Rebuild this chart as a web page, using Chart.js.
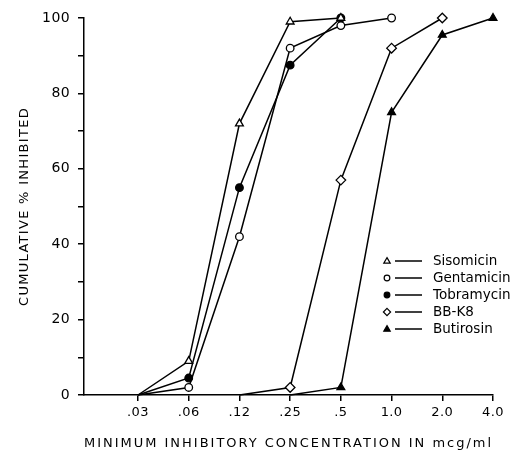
<!DOCTYPE html>
<html><head><meta charset="utf-8">
<script src="https://cdn.jsdelivr.net/npm/chart.js@4.4.0/dist/chart.umd.min.js"></script>
<style>html,body{margin:0;padding:0;background:#fff}</style></head>
<body><div style="width:513px;height:458px"><canvas id="c" width="513" height="458"></canvas></div>
<script>
const concentrations = ['.03', '.06', '.12', '.25', '.5', '1.0', '2.0', '4.0'];
const seriesNames = ['Sisomicin', 'Gentamicin', 'Tobramycin', 'BB-K8', 'Butirosin'];
const sisomicin  = [0, 9, 72, 99, 100, null, null, null];
const gentamicin = [0, 2, 42, 92, 98, 100, null, null];
const tobramycin = [0, 4.5, 55, 87.5, 100, null, null, null];
const bbk8       = [null, null, 0, 2, 57, 92, 100, null];
const butirosin  = [null, null, null, 0, 2, 75, 95.5, 100];
const yTickValues = [0, 10, 20, 30, 40, 50, 60, 70, 80, 90, 100];

const FONT = 'DejaVu Sans';
const styles = [
  {pointStyle: 'triangle', fill: '#fff', r: 4.5},
  {pointStyle: 'circle', fill: '#fff', r: 3.8},
  {pointStyle: 'circle', fill: '#000', r: 3.8},
  {pointStyle: 'rectRot', fill: '#fff', r: 4.8},
  {pointStyle: 'triangle', fill: '#000', r: 4.5}
];
const seriesValues = [sisomicin, gentamicin, tobramycin, bbk8, butirosin];

function toPoints(arr) {
  const out = [];
  arr.forEach((v, i) => { if (v !== null) out.push({x: i, y: v}); });
  return out;
}

const datasets = seriesValues.map((vals, k) => ({
  label: seriesNames[k],
  data: toPoints(vals),
  borderColor: '#000',
  borderWidth: 1.5,
  backgroundColor: styles[k].fill,
  pointStyle: styles[k].pointStyle,
  pointBackgroundColor: styles[k].fill,
  pointBorderColor: '#000',
  pointBorderWidth: 1.3,
  pointRadius: ctx => (ctx.raw && ctx.raw.y === 0) ? 0 : styles[k].r,
  pointHoverRadius: ctx => (ctx.raw && ctx.raw.y === 0) ? 0 : styles[k].r,
  tension: 0,
  fill: false,
  clip: false
}));

function drawMarker(c, style, x, y, r, fill) {
  c.save();
  c.beginPath();
  if (style === 'triangle') {
    c.moveTo(x, y - r);
    c.lineTo(x + r * 0.95, y + r * 0.65);
    c.lineTo(x - r * 0.95, y + r * 0.65);
    c.closePath();
  } else if (style === 'circle') {
    c.arc(x, y, r, 0, Math.PI * 2);
  } else {
    c.moveTo(x, y - r); c.lineTo(x + r, y); c.lineTo(x, y + r); c.lineTo(x - r, y); c.closePath();
  }
  c.fillStyle = fill; c.fill();
  c.lineWidth = 1.2; c.strokeStyle = '#000'; c.stroke();
  c.restore();
}

function spacedScale(titleSpacing, labelSpacing) {
  return s => {
    if (!s._spacedPatched) {
      s._spacedPatched = true;
      const origTitle = s.drawTitle, origLabels = s.drawLabels;
      s.drawTitle = function () {
        const c = this.ctx; const prev = c.letterSpacing;
        c.letterSpacing = titleSpacing; origTitle.apply(this, arguments); c.letterSpacing = prev;
      };
      s.drawLabels = function () {
        const c = this.ctx; const prev = c.letterSpacing;
        c.letterSpacing = labelSpacing; origLabels.apply(this, arguments); c.letterSpacing = prev;
      };
    }
  };
}

const legendPlugin = {
  id: 'customLegend',
  afterDraw(chart) {
    const c = chart.ctx;
    const x0 = 387, y0 = 261, dy = 17;
    seriesNames.forEach((name, k) => {
      const y = y0 + k * dy;
      c.save();
      c.strokeStyle = '#000'; c.lineWidth = 1.5;
      c.beginPath(); c.moveTo(x0 + 8, y); c.lineTo(x0 + 35, y); c.stroke();
      c.restore();
      drawMarker(c, styles[k].pointStyle, x0, y, styles[k].r * 0.75, styles[k].fill);
      c.save();
      c.letterSpacing = '0px';
      c.fillStyle = '#000';
      c.font = '13.5px "' + FONT + '"';
      c.textBaseline = 'middle';
      c.fillText(name, x0 + 46, y);
      c.restore();
    });
  }
};

new Chart(document.getElementById('c'), {
  type: 'line',
  data: {datasets},
  plugins: [legendPlugin],
  options: {
    responsive: false,
    animation: false,
    layout: {padding: {top: 18, right: 20, left: 0, bottom: 0}},
    plugins: {legend: {display: false}, tooltip: {enabled: false}},
    scales: {
      x: {
        type: 'linear',
        min: -1.065,
        max: 7,
        afterBuildTicks: s => { s.ticks = concentrations.map((_, i) => ({value: i})); },
        afterFit: s => { s.height = 63; spacedScale('2px', '0.4px')(s); },
        grid: {drawOnChartArea: false, drawTicks: true, tickLength: 6, color: '#000', lineWidth: 1.5},
        border: {display: true, color: '#000', width: 1.5},
        ticks: {
          color: '#000', padding: 4, maxRotation: 0, autoSkip: false,
          font: {family: FONT, size: 13},
          callback: v => concentrations[v] !== undefined ? concentrations[v] : ''
        },
        title: {
          display: true, text: 'MINIMUM INHIBITORY CONCENTRATION IN mcg/ml',
          color: '#000', font: {family: FONT, size: 13}, padding: {top: 7, bottom: 7}
        }
      },
      y: {
        min: 0, max: 100,
        afterBuildTicks: s => { s.ticks = yTickValues.map(v => ({value: v})); },
        afterFit: s => { s.width = 84; spacedScale('1.3px', '0.4px')(s); },
        grid: {drawOnChartArea: false, drawTicks: true, tickLength: 6, color: '#000', lineWidth: 1.5},
        border: {display: true, color: '#000', width: 1.5},
        ticks: {
          color: '#000', padding: 8, autoSkip: false,
          font: {family: FONT, size: 14},
          callback: v => (v % 20 === 0) ? String(v) : ''
        },
        title: {
          display: true, text: 'CUMULATIVE % INHIBITED',
          color: '#000', font: {family: FONT, size: 13}, padding: {top: 17, bottom: 17}
        }
      }
    }
  }
});
</script>
</body></html>
